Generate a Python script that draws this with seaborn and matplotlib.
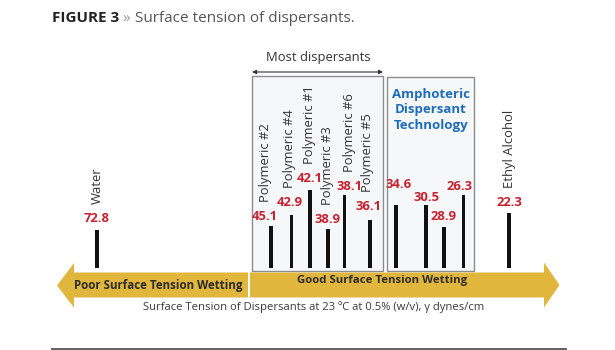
import numpy as np
import matplotlib
matplotlib.use("Agg")
import matplotlib.pyplot as plt
from matplotlib.patches import Polygon, Rectangle
import seaborn as sns
import pandas as pd

# ---------------- data ----------------
names = ["Water", "Polymeric #2", "Polymeric #4", "Polymeric #1", "Polymeric #3",
         "Polymeric #6", "Polymeric #5", "", "", "", "", "Ethyl Alcohol"]
values = [72.8, 45.1, 42.9, 42.1, 38.9, 38.1, 36.1, 34.6, 30.5, 28.9, 26.3, 22.3]
# schematic horizontal placement and drawn bar length
x_pos = [97, 271, 291.5, 310, 328, 344.5, 370, 396, 426, 444, 463.5, 509]
bar_len = [38, 42, 53, 78, 39, 73, 48, 63, 63, 41, 73, 55]

title_bold = "FIGURE 3"
title_sep = " \u00bb "
title_rest = "Surface tension of dispersants."
subtitle = "Surface Tension of Dispersants at 23 \u00baC at 0.5% (w/v), \u03b3 dynes/cm"
poor_label = "Poor Surface Tension Wetting"
good_label = "Good Surface Tension Wetting"
most_label = "Most dispersants"
ampho_label = "Amphoteric\nDispersant\nTechnology"

# label nudges (style)
lab_dx = [0, -6, -2, 0, 0, 5, -2, 3, 0, 0, -4, 0]
lab_dy = [11, 9.5, 11.5, 11.5, 9, 8.5, 12.5, 20, 7, 10, 8.5, 10]

# ---------------- style ----------------
sns.set_theme(style="white")
plt.rcParams['font.family'] = ['Open Sans', 'DejaVu Sans']

W, H = 615, 350
fig = plt.figure(figsize=(W / 100, H / 100), dpi=100)
fig.patch.set_facecolor("white")

# background axes in pixel coordinates
ax0 = fig.add_axes([0, 0, 1, 1])
ax0.set_xlim(0, W)
ax0.set_ylim(H, 0)
ax0.axis("off")

gold = "#e1b63c"
red = "#c8202f"
blue = "#1f6db8"
dark = "#2b2b2b"

# boxes
ax0.add_patch(Rectangle((252, 76), 130.5, 195, facecolor="#f6f7f9",
                        edgecolor="#8c8c8c", lw=1.0, zorder=1))
ax0.add_patch(Rectangle((387, 77), 87, 194, facecolor="#f6f7f9",
                        edgecolor="#8c8c8c", lw=1.0, zorder=1))

# arrows
left_arrow = [(57, 285.5), (74, 263), (74, 272.5), (248, 272.5), (248, 297.5),
              (74, 297.5), (74, 307.5)]
right_arrow = [(250, 272.5), (544, 272.5), (544, 262.5), (559.5, 285), (544, 307.5),
               (544, 297.5), (250, 297.5)]
ax0.add_patch(Polygon(left_arrow, closed=True, facecolor=gold, edgecolor="none", zorder=2))
ax0.add_patch(Polygon(right_arrow, closed=True, facecolor=gold, edgecolor="none", zorder=2))

ax0.text(158, 286, poor_label, ha="center", va="center", fontsize=8.3,
         fontweight="bold", color=dark, zorder=5)
ax0.text(382, 281, good_label, ha="center", va="center", fontsize=8.2,
         fontweight="bold", color=dark, zorder=5)
ax0.text(314, 307, subtitle, ha="center", va="center", fontsize=8.1,
         color="#3a3a3a", zorder=5)

# most dispersants double arrow
ax0.annotate("", xy=(252, 72), xytext=(383, 72),
             arrowprops=dict(arrowstyle="<|-|>", color="#333333", lw=0.8,
                             mutation_scale=6, shrinkA=0, shrinkB=0))
ax0.text(318, 57, most_label, ha="center", va="center", fontsize=9.4, color="#333333")

ax0.text(431, 110, ampho_label, ha="center", va="center", fontsize=9.5,
         fontweight="bold", color=blue, linespacing=1.28, zorder=5)

# title
fig.canvas.draw()
rend = fig.canvas.get_renderer()
t1 = ax0.text(52, 18.5, title_bold, ha="left", va="center", fontsize=11,
              fontweight="bold", color="#222222")
x_next = 52 + t1.get_window_extent(rend).width
t2 = ax0.text(x_next, 18.5, title_sep, ha="left", va="center", fontsize=11,
              color="#999999")
x_next += t2.get_window_extent(rend).width
ax0.text(x_next, 18.5, title_rest, ha="left", va="center", fontsize=11,
         color="#555555")

# bottom rule
ax0.plot([51, 567], [349, 349], color="#555555", lw=1.3, solid_capstyle="butt")

# bars axes: y = pixels above baseline
base = 267.5
axb = fig.add_axes([0, (H - base) / H, 1, base / H])
axb.patch.set_alpha(0)
df = pd.DataFrame({"x": x_pos, "len": bar_len, "name": names, "value": values})
bar_px = 3.2
frac = bar_px / np.diff(np.sort(np.array(x_pos))).min()
sns.barplot(data=df, x="x", y="len", native_scale=True, orient="x", width=frac,
            color="#111111", saturation=1, errorbar=None, linewidth=0, ax=axb)
axb.set_xlim(0, W)
axb.set_ylim(0, base)
axb.axis("off")

for xi, li, nm, v, dx, dy in zip(x_pos, bar_len, names, values, lab_dx, lab_dy):
    ly = li + dy
    axb.text(xi + dx, ly, f"{v:.1f}", ha="center", va="center", fontsize=9.4,
             fontweight="bold", color=red, clip_on=False, zorder=6)
    if nm:
        axb.text(xi + dx, ly + 14.5, nm, ha="center", va="bottom", rotation=90,
                 fontsize=9.4, color="#333333", clip_on=False, zorder=6)

fig.savefig("out.png", dpi=100, facecolor="white")
